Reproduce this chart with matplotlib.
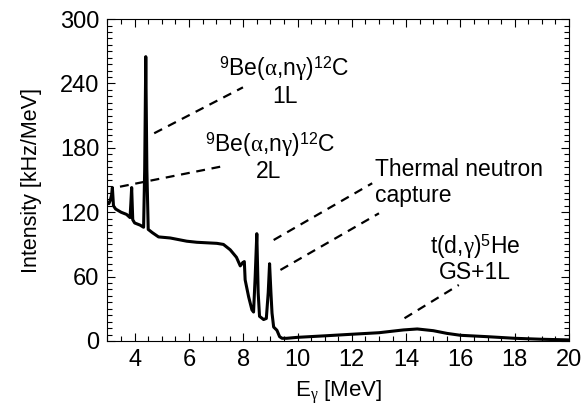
import matplotlib
matplotlib.use("Agg")
import matplotlib.pyplot as plt
from matplotlib.ticker import MultipleLocator

plt.rcParams["font.family"] = ["Liberation Sans", "DejaVu Sans"]
plt.rcParams["mathtext.fontset"] = "custom"
plt.rcParams["mathtext.rm"] = "Liberation Sans"
plt.rcParams["mathtext.it"] = "Liberation Serif"
plt.rcParams["mathtext.bf"] = "Liberation Sans:bold"

# gamma-ray spectrum (MeV, kHz/MeV)
energy = [3.00, 3.05, 3.10, 3.15, 3.18, 3.22, 3.30, 3.50, 3.70, 3.83, 3.86,
          3.89, 3.93, 4.00, 4.20, 4.33, 4.37, 4.41, 4.45, 4.50, 4.65, 4.88,
          5.31, 5.92, 6.29, 7.03, 7.27, 7.52, 7.75, 7.89, 7.98, 8.04, 8.07,
          8.20, 8.32, 8.38, 8.44, 8.50, 8.55, 8.60, 8.75, 8.85, 8.92, 8.97,
          9.02, 9.06, 9.12, 9.24, 9.34, 9.43, 9.60, 10.0, 11.0, 11.95, 13.0,
          13.9, 14.41, 15.0, 15.5, 16.0, 17.0, 18.0, 19.0, 20.0]
intensity = [129, 128, 131, 136, 143, 126, 123, 120, 118, 115, 128,
             143, 113, 110, 108, 106, 160, 265, 160, 104, 101, 97,
             96, 93, 92, 91, 90, 85, 78, 70, 73, 74, 57,
             41, 29, 27, 60, 100, 45, 23, 20, 21, 45, 72,
             45, 26, 13, 10, 4, 2.5, 2.5, 3.4, 4.8, 6.2, 7.7,
             10.3, 11.2, 9.6, 7.1, 5.3, 4.0, 2.5, 1.6, 1.0]

# leader lines from labels to the peaks
leaders = {
    "1L": ([4.72, 7.99], [193.6, 236.4]),
    "2L": ([3.46, 7.15], [143.8, 162.4]),
    "thermal_a": ([9.12, 12.75], [94.1, 147.0]),
    "thermal_b": ([9.37, 13.0], [66.2, 119.0]),
    "tdg": ([13.94, 15.94], [21.2, 52.2]),
}

fig = plt.figure(figsize=(5.82, 4.09), dpi=100)
ax = fig.add_axes([0.1847, 0.1663, 0.793, 0.787])

ax.plot(energy, intensity, color="black", lw=2.2, solid_joinstyle="round")
for xs, ys in leaders.values():
    ax.plot(xs, ys, color="black", lw=1.6, ls=(0, (4, 3)))

ax.set_xlim(3, 20)
ax.set_ylim(0, 300)
ax.xaxis.set_major_locator(MultipleLocator(2))
ax.xaxis.set_minor_locator(MultipleLocator(0.5))
ax.yaxis.set_major_locator(MultipleLocator(60))
ax.yaxis.set_minor_locator(MultipleLocator(6))
ax.tick_params(which="both", direction="in", top=True, right=True,
               labelsize=17, width=0.8, pad=6)
ax.tick_params(which="major", length=6)
ax.tick_params(which="minor", length=3.5)
for s in ax.spines.values():
    s.set_linewidth(0.8)

ax.set_xlabel(r"E$_{\gamma}$ [MeV]", fontsize=16, labelpad=5)
ax.set_ylabel("Intensity [kHz/MeV]", fontsize=15.5, labelpad=13)

fs = 16.5
ax.text(9.51, 247, r"$^{9}$Be($\alpha$,n$\gamma$)$^{12}$C", fontsize=fs,
        ha="center", va="baseline")
ax.text(9.55, 222, "1L", fontsize=fs, ha="center", va="baseline")
ax.text(9.0, 176.4, r"$^{9}$Be($\alpha$,n$\gamma$)$^{12}$C", fontsize=fs,
        ha="center", va="baseline")
ax.text(8.93, 152, "2L", fontsize=fs, ha="center", va="baseline")
ax.text(12.87, 153.8, "Thermal neutron", fontsize=fs, ha="left",
        va="baseline")
ax.text(12.87, 129.8, "capture", fontsize=fs, ha="left", va="baseline")
ax.text(16.56, 81, r"t(d,$\gamma$)$^{5}$He", fontsize=fs, ha="center",
        va="baseline")
ax.text(16.54, 57.5, "GS+1L", fontsize=fs, ha="center", va="baseline")

fig.savefig("out.png", dpi=100)
